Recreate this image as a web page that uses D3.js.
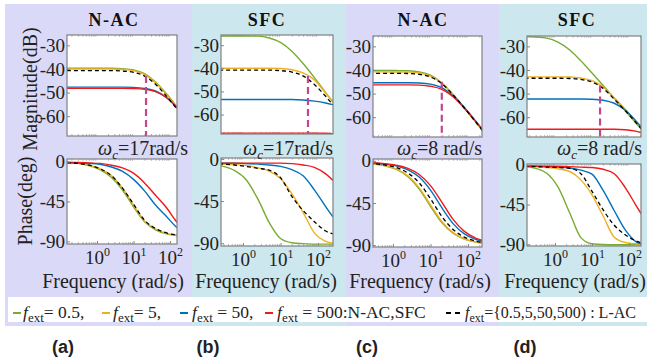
<!DOCTYPE html>
<html>
<head>
<meta charset="utf-8">
<script src="https://cdn.jsdelivr.net/npm/d3@7"></script>
<style>
body { margin: 0; background: #fff; }
</style>
</head>
<body>
<div id="chart"></div>
<script>
// sample frequencies (rad/s) for every curve
var freq = [0.15, 0.3, 0.6, 1.2, 2.5, 5, 10, 20, 40, 80, 160, 250];

// series order: f_ext = 0.5, 5, 50, 500, L-AC (dashed)
var seriesColors = ["#77ac30", "#edb120", "#0072bd", "#f01818", "#000"];

// (a) N-AC, wc = 17
var magA = [
  [-39.7, -39.7, -39.7, -39.7, -39.7, -39.9, -40.4, -42.0, -45.5, -50.5, -56.3, -60.1],
  [-40.0, -40.0, -40.0, -40.0, -40.0, -40.2, -40.7, -42.3, -45.8, -50.8, -56.6, -60.4],
  [-47.7, -47.7, -47.7, -47.7, -47.7, -47.7, -47.8, -48.2, -49.3, -52.1, -56.6, -60.1],
  [-48.2, -48.2, -48.2, -48.2, -48.2, -48.2, -48.3, -48.6, -49.6, -52.2, -56.7, -60.2],
  [-40.7, -40.7, -40.7, -40.7, -40.7, -40.9, -41.4, -43.0, -46.5, -51.5, -57.3, -61.1]
];
var phaseA = [
  [-1, -2, -4.5, -9, -18, -32, -51, -68, -77, -81.5, -83.5, -84.5],
  [-1, -2, -4, -8, -16, -30, -49, -67, -76, -81, -83, -84],
  [-1, -1.5, -2, -3, -6, -11, -20, -33, -49, -62, -75, -80],
  [-1, -1, -1.5, -2, -4, -7, -13, -24, -38, -52, -69, -76],
  [-1, -2, -4, -8, -16, -30, -48, -66, -75.5, -80.5, -83, -84]
];

// (b) SFC, wc = 17
var magB = [
  [-26, -26, -26, -26, -26.1, -26.9, -28.8, -32.6, -37.9, -44.0, -50.5, -54.5],
  [-40, -40, -40, -40, -40, -40, -40.1, -40.6, -42.0, -45.0, -50.7, -54.6],
  [-53.5, -53.5, -53.5, -53.5, -53.5, -53.5, -53.5, -53.5, -53.7, -54.2, -55.0, -55.7],
  [-68, -68, -68, -68, -68, -68, -68, -68, -68, -68, -68.1, -68.3],
  [-40.8, -40.8, -40.8, -40.8, -40.8, -40.8, -41.0, -41.6, -43.3, -47.0, -52.1, -55.8]
];
var phaseB = [
  [-6, -8, -12.5, -22, -43, -68, -85, -89.5, -90.5, -91, -91, -91],
  [-5, -5.5, -6, -7, -9.5, -13, -21, -37, -57, -79, -88, -90],
  [-4.5, -4.5, -4.5, -5, -5.5, -6.5, -8, -11.5, -18, -33, -51, -62],
  [-4.5, -4.5, -4.5, -4.5, -4.5, -4.5, -4.5, -5, -6.5, -9, -16, -23],
  [-5, -5.5, -6.5, -8, -10, -12, -20, -40, -55, -67, -77, -80]
];

// (c) N-AC, wc = 8
var magC = [
  [-40.2, -40.2, -40.2, -40.25, -40.35, -40.8, -42.2, -45.5, -50.4, -56.1, -62.0, -65.9],
  [-40.8, -40.8, -40.8, -40.85, -40.9, -41.3, -42.6, -45.6, -50.4, -56.1, -62.0, -65.9],
  [-45.4, -45.4, -45.4, -45.4, -45.4, -45.5, -46.0, -47.5, -50.9, -55.9, -61.6, -65.4],
  [-46.3, -46.3, -46.3, -46.3, -46.3, -46.4, -46.9, -48.2, -51.3, -56.2, -61.8, -65.7],
  [-41.4, -41.4, -41.4, -41.4, -41.5, -41.85, -43.0, -45.8, -50.5, -56.1, -62.0, -65.9]
];
var phaseC = [
  [-2.5, -3.4, -5.2, -8.9, -16.8, -30, -48.5, -66, -77.3, -83.6, -86.8, -87.9],
  [-2.4, -3.3, -5, -8.5, -16, -28.8, -47, -64.8, -76.6, -83.2, -86.6, -87.8],
  [-2, -2.5, -3.4, -5.3, -9.5, -17.3, -31.3, -50, -67, -78, -83.9, -86.1],
  [-2, -2.3, -3, -4.6, -8, -14.5, -26.5, -44, -62.5, -75.3, -82.5, -85.2],
  [-2.2, -2.9, -4.3, -7, -13, -23.5, -40.5, -59.3, -73.3, -81.5, -85.7, -87.3]
];

// (d) SFC, wc = 8
var magD = [
  [-25.85, -26.0, -26.5, -28.2, -31.5, -36.1, -41.3, -46.6, -52.0, -57.4, -62.8, -66.3],
  [-42.9, -42.9, -42.9, -42.9, -43.0, -43.4, -44.5, -47.2, -51.8, -56.7, -62.0, -65.4],
  [-52.3, -52.3, -52.3, -52.3, -52.3, -52.3, -52.4, -52.8, -54.1, -57.1, -61.9, -65.5],
  [-65.1, -65.1, -65.1, -65.1, -65.1, -65.1, -65.1, -65.1, -65.1, -65.3, -66.0, -66.9],
  [-43.5, -43.5, -43.5, -43.5, -43.6, -44.0, -45.1, -47.8, -52.4, -57.3, -62.6, -66.0]
];
var phaseD = [
  [-2, -4, -9.5, -25, -54.5, -82.5, -89.5, -90.3, -90.5, -90.5, -90.5, -90.5],
  [-1.5, -2, -3, -4.5, -7.5, -17, -34, -58, -82, -88, -89.5, -90],
  [-1, -1.5, -2, -2.5, -3.5, -6, -10.5, -29, -52, -74, -87.5, -90],
  [-1.5, -1.5, -1.5, -1.5, -2, -2.5, -3, -5, -10, -26, -47, -60],
  [-1.5, -2, -2.5, -3, -3.8, -10, -30, -51, -68.5, -79.5, -86.5, -89]
];

var panelTitles = ["N-AC", "SFC", "N-AC", "SFC"];
var panelTags = ["(a)", "(b)", "(c)", "(d)"];
var omegaText = ["=17rad/s", "=17rad/s", "=8 rad/s", "=8 rad/s"];
var markerFreq = [22, 54, 20, 16.5];
var markerTop = [-43.0, -43.3, -45.0, -46.6];
var magTicks = [-30, -40, -50, -60];
var phaseTicks = [0, -45, -90];
var freqTicks = [1, 10, 100];
var magDomain = [-68.4, -25.6];

var legendItems = [
  {sub: "ext", rest: "= 0.5,"},
  {sub: "ext", rest: "= 5,"},
  {sub: "ext", rest: " = 50,"},
  {sub: "ext", rest: " = 500:N-AC,SFC"},
  {sub: "ext", rest: "={0.5,5,50,500) : L-AC"}
];

var serif = "'Liberation Serif', 'Times New Roman', serif";
var lav = "#dadaf8", cyan = "#cde7ef";

// layout per panel (pixels)
var panels = [
  {bg: [5, 192], col: lav, x: [67, 177], mag: [35, 136], ph: [159, 244], fdom: [0.151, 155], phdom: [-93, 3],
   titleX: 114, omegaX: 98, freqX: 113, tagX: 63, m: magA, p: phaseA},
  {bg: [192, 346], col: cyan, x: [221, 333], mag: [35, 134], ph: [158, 246], fdom: [0.259, 251], phdom: [-93, 1],
   titleX: 267, omegaX: 243, freqX: 266, tagX: 208, m: magB, p: phaseB},
  {bg: [346, 499], col: lav, x: [373, 482], mag: [36, 137], ph: [159, 247], fdom: [0.293, 236], phdom: [-92, 2],
   titleX: 423, omegaX: 397, freqX: 420, tagX: 367, m: magC, p: phaseC},
  {bg: [499, 647], col: cyan, x: [527, 641], mag: [36, 137], ph: [164, 246], fdom: [0.175, 211], phdom: [-92, 1],
   titleX: 577, omegaX: 557, freqX: 575, tagX: 525, m: magD, p: phaseD}
];

var svg = d3.select("#chart").append("svg")
  .attr("width", 649)
  .attr("height", 363)
  .style("background", "#fff");

var defs = svg.append("defs");

// panel backgrounds
panels.forEach(function(p) {
  svg.append("rect")
    .attr("x", p.bg[0]).attr("y", 4)
    .attr("width", p.bg[1] - p.bg[0]).attr("height", 322)
    .attr("fill", p.col);
});

var minorTicks = [];
[0.1, 1, 10, 100].forEach(function(dec) {
  for (var k = 2; k <= 9; k++) minorTicks.push(dec * k);
});

function drawPlot(g, p, id, x, y, yr, data, yTicks) {
  var w = p.x[1] - p.x[0], h = yr[1] - yr[0];
  g.append("rect").attr("x", p.x[0]).attr("y", yr[0]).attr("width", w).attr("height", h).attr("fill", "#fff");

  defs.append("clipPath").attr("id", id)
    .append("rect").attr("x", p.x[0]).attr("y", yr[0]).attr("width", w).attr("height", h);

  var mt = minorTicks.filter(function(d) { return d > p.fdom[0] && d < p.fdom[1]; });
  g.append("g").attr("transform", "translate(0," + yr[1] + ")")
    .call(d3.axisBottom(x).tickValues(mt).tickSize(-2).tickFormat(""))
    .call(function(s) { s.select(".domain").remove(); s.selectAll("line").attr("stroke", "#b5b5b5"); });
  g.append("g").attr("transform", "translate(0," + yr[0] + ")")
    .call(d3.axisTop(x).tickValues(mt).tickSize(-2).tickFormat(""))
    .call(function(s) { s.select(".domain").remove(); s.selectAll("line").attr("stroke", "#c5c5c5"); });

  var line = d3.line()
    .x(function(d, i) { return x(freq[i]); })
    .y(function(d) { return y(d); })
    .curve(d3.curveMonotoneX);

  var lines = g.append("g").attr("clip-path", "url(#" + id + ")");
  data.forEach(function(s, k) {
    lines.append("path")
      .attr("d", line(s))
      .attr("fill", "none")
      .attr("stroke", seriesColors[k])
      .attr("stroke-width", k == 4 ? 1.3 : 1.4)
      .attr("stroke-dasharray", k == 4 ? "4,3" : null);
  });

  g.append("g").attr("transform", "translate(" + p.x[0] + ",0)")
    .call(d3.axisLeft(y).tickValues(yTicks).tickSizeInner(-3).tickSizeOuter(0).tickPadding(2))
    .call(function(s) {
      s.select(".domain").remove();
      s.selectAll("line").attr("stroke", "#888");
      s.selectAll("text").attr("font-family", serif).attr("font-size", 19).attr("fill", "#222")
        .text(function(d) { return d < 0 ? "-" + (-d) : d; });
    });

  g.append("rect").attr("x", p.x[0]).attr("y", yr[0]).attr("width", w).attr("height", h)
    .attr("fill", "none").attr("stroke", "#808080").attr("stroke-width", 1.2);
  return lines;
}

panels.forEach(function(p, i) {
  var g = svg.append("g");
  var x = d3.scaleLog().domain(p.fdom).range(p.x);
  var yM = d3.scaleLinear().domain(magDomain).range([p.mag[1], p.mag[0]]);
  var yP = d3.scaleLinear().domain(p.phdom).range([p.ph[1], p.ph[0]]);

  var magLines = drawPlot(g, p, "cm" + i, x, yM, p.mag, p.m, magTicks);
  drawPlot(g, p, "cp" + i, x, yP, p.ph, p.p, phaseTicks);

  // crossover marker
  magLines.append("line")
    .attr("x1", x(markerFreq[i])).attr("x2", x(markerFreq[i]))
    .attr("y1", yM(markerTop[i])).attr("y2", p.mag[1])
    .attr("stroke", "#c2458e").attr("stroke-width", 2.2).attr("stroke-dasharray", "7,4");

  // frequency axis labels
  g.append("g").attr("transform", "translate(0," + p.ph[1] + ")")
    .call(d3.axisBottom(x).tickValues(freqTicks).tickSize(-3).tickFormat(""))
    .call(function(s) {
      s.select(".domain").remove();
      s.selectAll("line").attr("stroke", "#888");
      s.selectAll(".tick text").each(function(d) {
        var t = d3.select(this).attr("y", 20).attr("dy", null)
          .attr("font-family", serif).attr("font-size", 19).attr("fill", "#222");
        t.append("tspan").text("10");
        t.append("tspan").attr("dy", -8).attr("font-size", 12).text(Math.round(Math.log10(d)));
      });
    });

  g.append("text").attr("x", p.titleX).attr("y", 26)
    .attr("text-anchor", "middle").attr("font-family", serif).attr("font-weight", "bold")
    .attr("font-size", 18).attr("letter-spacing", 1.5).attr("fill", "#111")
    .text(panelTitles[i]);

  var om = g.append("text").attr("x", p.omegaX).attr("y", 155)
    .attr("font-family", serif).attr("font-size", 20).attr("fill", "#222");
  om.append("tspan").attr("font-style", "italic").text("\u03c9");
  om.append("tspan").attr("font-style", "italic").attr("font-size", 13).attr("dy", 4).text("c");
  om.append("tspan").attr("dy", -4).text(omegaText[i]);

  g.append("text").attr("x", p.freqX).attr("y", 288)
    .attr("text-anchor", "middle").attr("font-family", serif).attr("font-size", 20).attr("fill", "#222")
    .text("Frequency (rad/s)");

  svg.append("text").attr("x", p.tagX).attr("y", 353)
    .attr("text-anchor", "middle").attr("font-family", "'Liberation Sans', Arial, sans-serif")
    .attr("font-weight", "bold").attr("font-size", 18).attr("fill", "#222")
    .text(panelTags[i]);
});

// y axis titles
svg.append("text").attr("transform", "translate(37,89) rotate(-90)")
  .attr("text-anchor", "middle").attr("font-family", serif).attr("font-size", 20).attr("fill", "#222")
  .text("Magnitude(dB)");
svg.append("text").attr("transform", "translate(32,201) rotate(-90)")
  .attr("text-anchor", "middle").attr("font-family", serif).attr("font-size", 20).attr("fill", "#222")
  .text("Phase(deg)");

// legend
svg.append("rect").attr("x", 8).attr("y", 297).attr("width", 639).attr("height", 25).attr("fill", "#fff");
var legX = [13, 102, 180, 265, 446];
var legTextX = [23, 113, 192, 277, 465];
legendItems.forEach(function(it, k) {
  svg.append("line")
    .attr("x1", legX[k]).attr("x2", legX[k] + (k == 4 ? 14 : 8))
    .attr("y1", 313).attr("y2", 313)
    .attr("stroke", seriesColors[k]).attr("stroke-width", 2)
    .attr("stroke-dasharray", k == 4 ? "5,4" : null);
  var t = svg.append("text").attr("x", legTextX[k]).attr("y", 318)
    .attr("font-family", serif).attr("font-size", k == 4 ? 16 : 17.5).attr("fill", "#222");
  t.append("tspan").attr("font-style", "italic").text("f");
  t.append("tspan").attr("font-size", k == 4 ? 12 : 13).attr("dy", 4).text(it.sub);
  t.append("tspan").attr("dy", -4).text(it.rest);
});
</script>
</body>
</html>
